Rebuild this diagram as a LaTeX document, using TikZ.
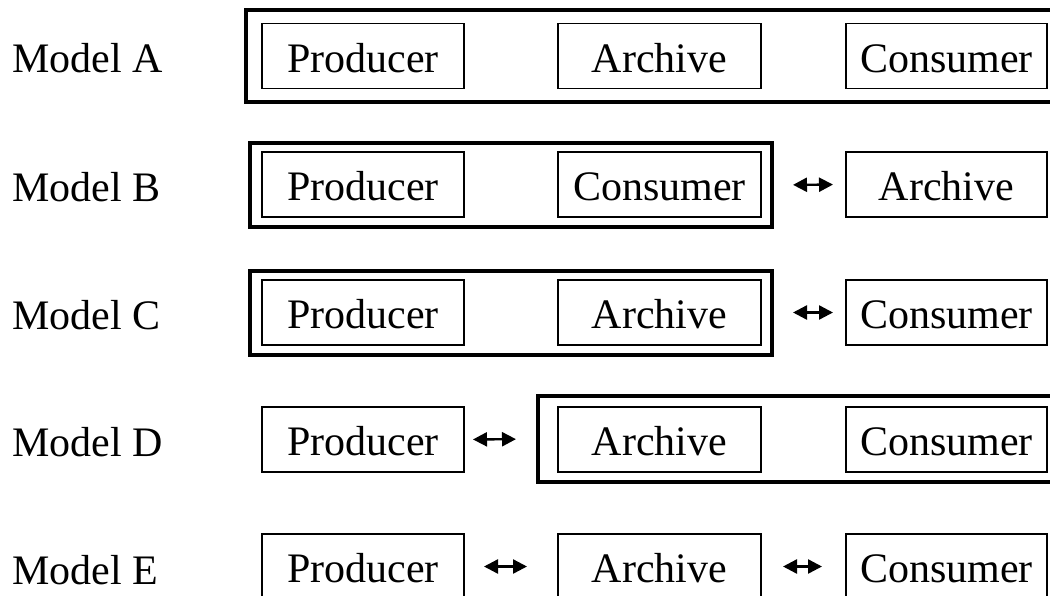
\documentclass[tikz,border=0pt]{standalone}
\usepackage{fontspec}
\setmainfont{Liberation Serif}
\usetikzlibrary{arrows.meta}
\begin{document}
\begin{tikzpicture}[x=0.5pt,y=-0.5pt,
  txt/.style={font=\fontsize{21}{25}\selectfont},
  box/.style={txt,draw,line width=0.65pt,inner sep=0pt,outer sep=0pt,minimum height=32.5pt,text height=16pt,text depth=0pt},
  cola/.style={box,minimum width=101pt},
  colb/.style={box,minimum width=101.5pt},
  colc/.style={box,minimum width=100.5pt},
  frame/.style={draw,line width=2pt,inner sep=0pt,outer sep=0pt},
  lbl/.style={txt,anchor=base west,inner sep=0pt},
  link/.style={{Triangle[length=7pt,width=7pt]}-{Triangle[length=7pt,width=7pt]},line width=1.2pt}]
\useasboundingbox (0,0) rectangle (1050,595);
\clip (0,0) rectangle (1050,595);
% labels
\node[lbl] (la) at (12,72) {Model A};
\node[lbl] (lb) at (12,201) {Model B};
\node[lbl] (lc) at (12,329) {Model C};
\node[lbl] (ld) at (12,456) {Model D};
\node[lbl] (le) at (12,584) {Model E};
% Model A
\node[frame,minimum width=412pt,minimum height=45.75pt] (fa) at (658,55.75) {};
\node[cola] (pa) at (363,56) {Producer};
\node[colb] (aa) at (659.5,56) {Archive};
\node[colc] (ca) at (946.5,56) {Consumer};
% Model B
\node[frame,minimum width=261pt,minimum height=42pt] (fb) at (511,185) {};
\node[cola] (pb) at (363,184.5) {Producer};
\node[colb] (cb) at (659.5,184.5) {Consumer};
\node[colc] (ab) at (946.5,184.5) {Archive};
\draw[link,shorten <=10.5pt,shorten >=6.5pt] (fb.east) -- (ab.west);
% Model C
\node[frame,minimum width=261pt,minimum height=42pt] (fc) at (511,312.5) {};
\node[cola] (pc) at (363,312.5) {Producer};
\node[colb] (ac) at (659.5,312.5) {Archive};
\node[colc] (cc) at (946.5,312.5) {Consumer};
\draw[link,shorten <=10.5pt,shorten >=6.5pt] (fc.east) -- (cc.west);
% Model D
\node[frame,minimum width=266pt,minimum height=43pt] (fd) at (804,439) {};
\node[cola] (pd) at (363,439.5) {Producer};
\node[colb] (ad) at (659.5,439.5) {Archive};
\node[colc] (cd) at (946.5,439.5) {Consumer};
\draw[link,shorten <=4.5pt,shorten >=11pt] (pd.east) -- (fd.west);
% Model E
\node[cola] (pe) at (363,566.5) {Producer};
\node[colb] (ae) at (659.5,566.5) {Archive};
\node[colc] (ce) at (946.5,566.5) {Consumer};
\draw[link,shorten <=10pt,shorten >=15.5pt] (pe.east) -- (ae.west);
\draw[link,shorten <=11pt,shorten >=12pt] (ae.east) -- (ce.west);
\end{tikzpicture}
\end{document}
